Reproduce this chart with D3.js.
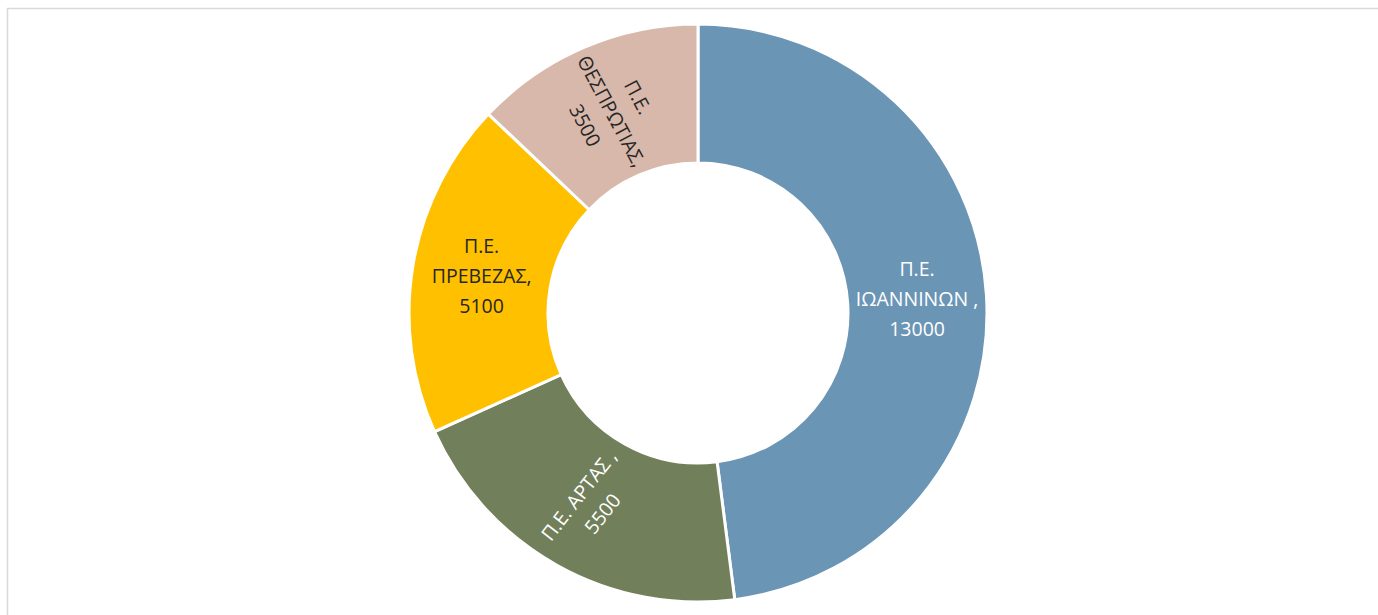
<!DOCTYPE html>
<html>
<head>
<meta charset="utf-8">
<script src="https://cdn.jsdelivr.net/npm/d3@7"></script>
<style>
  body { margin: 0; background: #fff; }
  svg { display: block; }
</style>
</head>
<body>
<div id="chart"></div>
<script>
var width = 1378
var height = 615

// data
var regions = ["Π.Ε. ΙΩΑΝΝΙΝΩΝ", "Π.Ε. ΑΡΤΑΣ", "Π.Ε. ΠΡΕΒΕΖΑΣ", "Π.Ε. ΘΕΣΠΡΩΤΙΑΣ"]
var values = [13000, 5500, 5100, 3500]
// label lines as shown in the chart
var labelLines = [
    ["Π.Ε.", "ΙΩΑΝΝΙΝΩΝ ,", "13000"],
    ["Π.Ε. ΑΡΤΑΣ ,", "5500"],
    ["Π.Ε.", "ΠΡΕΒΕΖΑΣ,", "5100"],
    ["Π.Ε.", "ΘΕΣΠΡΩΤΙΑΣ,", "3500"]
]

var colors = ["#6b95b5", "#727f5b", "#ffc000", "#d8b8aa"]
var textColors = ["#ffffff", "#ffffff", "#262626", "#262626"]
var labelRotate = [0, -52, 0, 62]

var cx = 698, cy = 313
var outerR = 289, innerR = 150

var svg = d3.select("#chart").append("svg")
    .attr("width", width)
    .attr("height", height)

// frame
svg.append("rect")
    .attr("x", 7.5)
    .attr("y", 8.5)
    .attr("width", 1400)
    .attr("height", 700)
    .attr("fill", "none")
    .attr("stroke", "#d9d9d9")
    .attr("stroke-width", 1.5)

var pie = d3.pie().sort(null).value(function(d) { return d })
var arcs = pie(values)

var arc = d3.arc().innerRadius(innerR).outerRadius(outerR)

var g = svg.append("g").attr("transform", "translate(" + cx + "," + cy + ")")

g.selectAll("path.slice")
    .data(arcs)
    .enter()
    .append("path")
    .attr("class", "slice")
    .attr("d", arc)
    .attr("fill", function(d, i) { return colors[i] })
    .attr("stroke", "#fff")
    .attr("stroke-width", 3)

var lineH = 30

var labels = g.selectAll("text.lbl")
    .data(arcs)
    .enter()
    .append("text")
    .attr("class", "lbl")
    .attr("transform", function(d, i) {
        var c = arc.centroid(d)
        return "translate(" + c[0] + "," + c[1] + ") rotate(" + labelRotate[i] + ")"
    })
    .attr("text-anchor", "middle")
    .style("font-family", "'Open Sans', sans-serif")
    .style("font-size", "19.5px")
    .style("fill", function(d, i) { return textColors[i] })

labels.each(function(d, i) {
    var lines = labelLines[i]
    var t = d3.select(this)
    var y0 = -(lines.length - 1) * lineH / 2
    lines.forEach(function(s, k) {
        t.append("tspan")
            .attr("x", 0)
            .attr("y", y0 + k * lineH)
            .attr("dy", "0.35em")
            .text(s)
    })
})
</script>
</body>
</html>
